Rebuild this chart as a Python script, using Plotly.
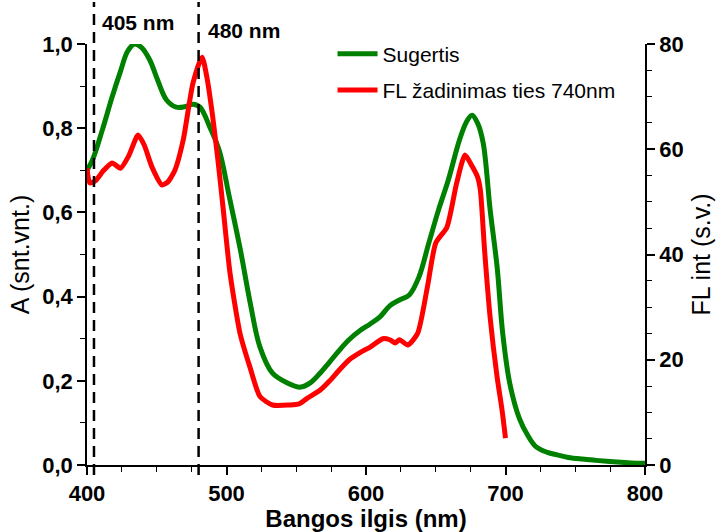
import plotly.graph_objects as go

# Absorption (Sugertis), left axis
abs_nm = [400, 404, 411, 418, 424, 429, 434, 439, 445, 450, 457, 464, 470, 476, 481, 488, 495, 502,
          510, 517, 524, 533, 543, 553, 560, 567, 574, 581, 588, 596, 603, 610, 617, 624, 631,
          638, 645, 652, 659, 667, 672, 676, 680, 684, 689, 694, 698, 703, 710, 716, 722, 730,
          737, 745, 755, 765, 780, 790, 800]
abs_val = [0.70, 0.725, 0.796, 0.874, 0.935, 0.982, 1.0, 0.992, 0.962, 0.92, 0.867, 0.85, 0.851, 0.857,
           0.85, 0.803, 0.745, 0.637, 0.51, 0.385, 0.28, 0.218, 0.196, 0.185, 0.195, 0.218, 0.245,
           0.273, 0.298, 0.32, 0.335, 0.352, 0.378, 0.392, 0.404, 0.447, 0.527, 0.606, 0.677,
           0.772, 0.815, 0.831, 0.812, 0.765, 0.606, 0.47, 0.313, 0.195, 0.11, 0.07, 0.043, 0.03,
           0.024, 0.018, 0.014, 0.011, 0.007, 0.005, 0.004]

# Fluorescence excitation (FL žadinimas ties 740nm), right axis
fl_nm = [400, 402, 406, 412, 418, 424, 430, 436.6, 441, 446.6, 453.8, 458, 463, 469, 476, 482.5,
         486, 490, 494, 497.5, 502.5, 509.7, 516.8, 524, 533, 545, 552, 558, 567, 574, 581, 588,
         596, 603, 612, 617, 621, 624, 630, 637, 644, 650, 658, 665, 671, 676, 680, 682, 685,
         689, 694, 697.5, 700]
fl_val = [56.4, 53.6, 54.0, 56.0, 57.4, 56.4, 58.8, 62.7, 60.8, 56.6, 53.2, 53.8, 56.0, 61.8,
          72.6, 77.5, 73.6, 66.4, 57.6, 49.0, 36.5, 25.0, 18.6, 13.0, 11.4, 11.4, 11.6, 12.7,
          14.2, 16.0, 18.1, 20.0, 21.4, 22.4, 24.0, 23.8, 23.2, 23.8, 22.8, 25.0, 33.8, 42.2,
          45.2, 53.6, 58.9, 56.8, 54.7, 52.2, 40.8, 28.0, 16.7, 10.5, 5.1]

marker_nm = [405, 480]
marker_labels = ["405 nm", "480 nm"]

FONT = "Liberation Sans, Arial, sans-serif"

fig = go.Figure()
fig.add_trace(go.Scatter(x=abs_nm, y=abs_val, mode="lines", name="Sugertis",
                         line=dict(color="#008000", width=5, shape="spline", smoothing=1.0),
                         legendgroup="a"))
fig.add_trace(go.Scatter(x=fl_nm, y=fl_val, mode="lines", name="FL žadinimas ties 740nm",
                         yaxis="y2",
                         line=dict(color="#ff0000", width=5, shape="spline", smoothing=0.6),
                         legendgroup="b"))

for nm in marker_nm:
    fig.add_shape(type="line", xref="x", yref="paper", x0=nm, x1=nm, y0=-0.024, y1=1.1,
                  line=dict(color="black", width=2.5, dash="11px,7px"))

label_y = [1.052, 1.033]
label_dx = [4, 5]
for nm, txt, yy, dx in zip(marker_nm, marker_labels, label_y, label_dx):
    fig.add_annotation(x=nm + dx, y=yy, xref="x", yref="paper", text=txt, showarrow=False,
                       xanchor="left", yanchor="middle",
                       font=dict(family=FONT, size=21, color="black", weight="bold"))

tickfont = dict(family=FONT, size=22, color="black", weight="bold")

fig.update_layout(
    width=722, height=532,
    margin=dict(l=87, r=77, t=44, b=67),
    paper_bgcolor="white", plot_bgcolor="white",
    separators=",.",
    showlegend=True,
    legend=dict(x=0.44, y=1.025, xanchor="left", yanchor="top",
                font=dict(family=FONT, size=21, color="black"),
                bgcolor="rgba(0,0,0,0)", traceorder="grouped", tracegroupgap=6,
                itemwidth=40),
    xaxis=dict(range=[400, 800], tickvals=[400, 500, 600, 700, 800], automargin=False,
               showgrid=False, zeroline=False, showline=True, linecolor="black", linewidth=1.5,
               ticks="outside", ticklen=8, tickwidth=1.5, tickcolor="black",
               minor=dict(dtick=25, ticks="outside", ticklen=5, tickwidth=1.2, tickcolor="black"),
               tickfont=tickfont,
               title=dict(text="Bangos ilgis (nm)", standoff=2,
                          font=dict(family=FONT, size=24, color="black", weight="bold"))),
    yaxis=dict(range=[0, 1.0], tickvals=[0, 0.2, 0.4, 0.6, 0.8, 1.0], tickformat=".1f",
               automargin=False,
               showgrid=False, zeroline=False, showline=True, linecolor="black", linewidth=1.5,
               ticks="outside", ticklen=8, tickwidth=1.5, tickcolor="black",
               minor=dict(dtick=0.1, ticks="outside", ticklen=5, tickwidth=1.2, tickcolor="black"),
               tickfont=tickfont,
               title=dict(text="A (snt.vnt.)", standoff=6,
                          font=dict(family=FONT, size=25, color="black"))),
    yaxis2=dict(range=[0, 80], tickvals=[0, 20, 40, 60, 80], overlaying="y", side="right",
                automargin=False,
                showgrid=False, zeroline=False, showline=True, linecolor="black", linewidth=1.5,
                ticks="outside", ticklen=8, tickwidth=1.5, tickcolor="black",
                minor=dict(dtick=5, ticks="outside", ticklen=5, tickwidth=1.2, tickcolor="black"),
                tickfont=tickfont,
                title=dict(text="FL int (s.v.)", standoff=10,
                           font=dict(family=FONT, size=25, color="black"))),
)

fig.write_html("out.html")
